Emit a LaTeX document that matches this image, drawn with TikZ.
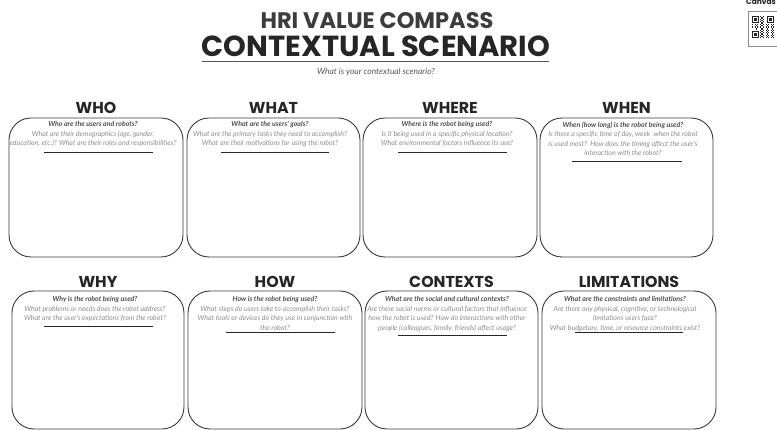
\documentclass[tikz,border=0pt]{standalone}
\usepackage{fontspec}
\newfontfamily\headfont{Poppins}
\newfontfamily\qfont{Lato}
\definecolor{ink}{HTML}{262626}
\definecolor{boxline}{HTML}{3A3A3A}
\definecolor{qone}{HTML}{4E4E4E}
\definecolor{qtwo}{HTML}{8C8C8C}
\definecolor{subc}{HTML}{555555}
\newcommand{\qhead}[1]{\textcolor{qone}{\bfseries #1}}
\tikzset{
  cbox/.style={draw=boxline, line width=0.9pt, rounded corners=22pt},
  heading/.style={anchor=base, inner sep=0pt, text=ink, font={\headfont\bfseries\fontsize{15.8}{18}\selectfont}},
  qtext/.style={anchor=north, inner sep=0pt, align=center, text=qtwo, font={\qfont\itshape\fontsize{7}{9.5}\selectfont}},
  uline/.style={draw=ink, line width=0.9pt},
}
\begin{document}
\begin{tikzpicture}[x=1pt,y=-1pt]
\useasboundingbox (0,0) rectangle (777,430);
\fill[white] (0,0) rectangle (777,430);

% titles
\node[anchor=base, inner sep=0pt, text=ink!90, font={\headfont\bfseries\fontsize{22.5}{26}\selectfont}] (hri) at (377,29) {HRI VALUE COMPASS};
\node[anchor=base, inner sep=0pt, text=ink, font={\headfont\bfseries\fontsize{29}{34}\selectfont}] (ctx) at (376,56.5) {CONTEXTUAL SCENARIO};
\draw[draw=subc, line width=1.6pt] (202,61.5) -- (549,61.5);
\node[anchor=base, inner sep=0pt, text=subc, font={\qfont\itshape\fontsize{8.4}{10}\selectfont}] (sub) at (376,74.5) {What is your contextual scenario?};

% canvas + qr
\node[anchor=base, inner sep=0pt, text=ink, font={\headfont\bfseries\fontsize{7.5}{9}\selectfont}] (canvas) at (761,5) {Canvas};
\draw[draw=qtwo, line width=0.6pt] (748,11) rectangle (777,46);
\begin{scope}[shift={(752,16)}]
  \foreach \i in {0,...,20} {
    \foreach \j in {0,...,20} {
      \pgfmathtruncatemacro\v{mod(\i*\i*3+\j*7+\i*\j*5+\j*\j+\i,5)}
      \ifnum\v<2 \fill[ink] (\i*1.05,\j*1.05) rectangle ++(1.05,1.05); \fi
    }
  }
  \foreach \ox/\oy in {0/0, 14/0, 0/14} {
    \fill[white] (\ox*1.05-0.5,\oy*1.05-0.5) rectangle ++(8.4,8.4);
    \fill[ink] (\ox*1.05,\oy*1.05) rectangle ++(7.35,7.35);
    \fill[white] (\ox*1.05+1.05,\oy*1.05+1.05) rectangle ++(5.25,5.25);
    \fill[ink] (\ox*1.05+2.1,\oy*1.05+2.1) rectangle ++(3.15,3.15);
  }
\end{scope}

% top row boxes
\draw[cbox] (9,118) rectangle (183,257);
\draw[cbox] (187,118) rectangle (360,257);
\draw[cbox] (363,118) rectangle (537,257);
\draw[cbox] (540,118) rectangle (713,257);
% bottom row boxes
\draw[cbox] (12,291) rectangle (184,429);
\draw[cbox] (188,291) rectangle (362,429);
\draw[cbox] (365,291) rectangle (538,429);
\draw[cbox] (542,291) rectangle (716,429);

% headings
\node[heading] (hWho) at (96,113.5) {WHO};
\node[heading] (hWhat) at (273.5,113.5) {WHAT};
\node[heading] (hWhere) at (450,113.5) {WHERE};
\node[heading] (hWhen) at (626.5,113.5) {WHEN};
\node[heading] (hWhy) at (98,287.5) {WHY};
\node[heading] (hHow) at (275,287.5) {HOW};
\node[heading] (hCtx) at (451.5,287.5) {CONTEXTS};
\node[heading] (hLim) at (629,287.5) {LIMITATIONS};

% questions
\node[qtext] (tWho) at (93,121.5) {\qhead{Who are the users and robots?}\\What are their demographics (age, gender,\\education, etc.)? What are their roles and responsibilities?};
\node[qtext] (tWhat) at (270,121.5) {\qhead{What are the users' goals?}\\What are the primary tasks they need to accomplish?\\What are their motivations for using the robot?};
\node[qtext] (tWhere) at (447,121.5) {\qhead{Where is the robot being used?}\\Is it being used in a specific physical location?\\What environmental factors influence its use?};
\node[qtext] (tWhen) at (623,121.5) {\qhead{When (how long) is the robot being used?}\\Is there a specific time of day, week\ \ when the robot\\is used most?\ \ How does the timing affect the user's\\interaction with the robot?};
\node[qtext] (tWhy) at (95,296.5) {\qhead{Why is the robot being used?}\\What problems or needs does the robot address?\\What are the user's expectations from the robot?};
\node[qtext] (tHow) at (275,296.5) {\qhead{How is the robot being used?}\\What steps do users take to accomplish their tasks?\\What tools or devices do they use in conjunction with\\the robot?};
\node[qtext] (tCtx) at (447,296.5) {\qhead{What are the social and cultural contexts?}\\Are there social norms or cultural factors that influence\\how the robot is used? How do interactions with other\\people (colleagues, family, friends) affect usage?};
\node[qtext] (tLim) at (625,296.5) {\qhead{What are the constraints and limitations?}\\Are there any physical, cognitive, or technological\\limitations users face?\\What budgetary, time, or resource constraints exist?};

% underlines
\draw[uline] (44,152.5) -- (153,152.5);
\draw[uline] (221,152.5) -- (329,152.5);
\draw[uline] (398,152.5) -- (507,152.5);
\draw[uline] (572,161) -- (682,161);
\draw[uline] (44,326.5) -- (153,326.5);
\draw[uline] (226,332.5) -- (335,332.5);
\draw[uline] (398,335.5) -- (507,335.5);
\draw[uline] (575,332) -- (683,332);
\end{tikzpicture}
\end{document}
